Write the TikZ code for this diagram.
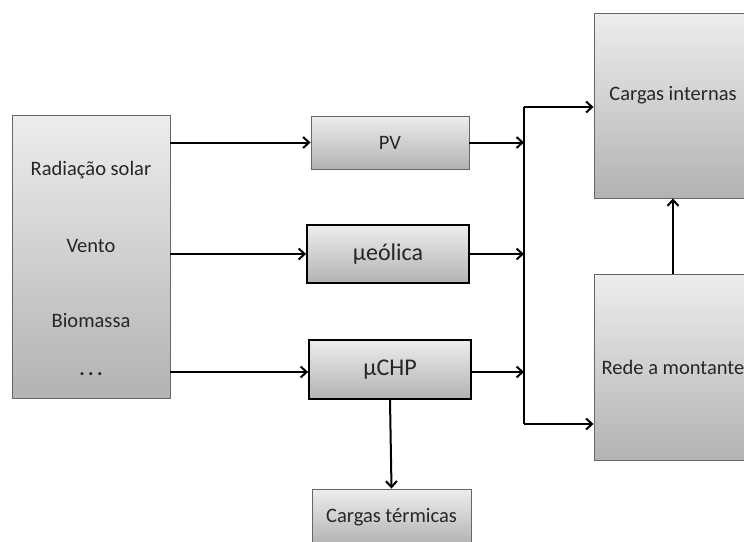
\documentclass[tikz,border=0pt]{standalone}
\usepackage{fontspec}
\setmainfont{Carlito}
\usetikzlibrary{arrows.meta}

\tikzset{
	block/.style={rectangle,inner sep=0pt,draw=black!60,line width=0.9pt,top color=black!7,bottom color=black!30,text=black!85},
	mublock/.style={block,draw=black,line width=1.8pt},
	flow/.style={line width=2pt,-{Straight Barb[length=6pt,width=11pt]}},
	srctext/.style={text=black!85}
}

\begin{document}
\begin{tikzpicture}[x=1pt,y=-1pt,every node/.style={align=center,font=\fontsize{20.5}{24}\selectfont}]
	\useasboundingbox (0,0) rectangle (744,541);
	% sources
	\node [block,minimum width=158pt,minimum height=283pt] (src) at (91,256.5) {};
	\node [srctext] (solar) at (91,170) {Radiação solar};
	\node [srctext] (vento) at (91,246) {Vento};
	\node [srctext] (bio) at (91,321) {Biomassa};
	\node [srctext] (etc) at (91,374) {\textbf{.\,.\,.}};
	% generation
	\node [block,minimum width=158pt,minimum height=53pt] (pv) at (390,142.5) {PV};
	\node [mublock,minimum width=162pt,minimum height=58pt,font=\fontsize{24}{28}\selectfont] (eol) at (388,254) {µeólica};
	\node [mublock,minimum width=162pt,minimum height=59pt,font=\fontsize{24}{28}\selectfont] (chp) at (390,369.5) {µCHP};
	\node [block,minimum width=159pt,minimum height=56pt] (term) at (391.5,517) {Cargas térmicas};
	% loads and grid
	\node [block,minimum width=158pt,minimum height=185pt] (cin) at (673,105.5) {};
	\node [srctext] (cintext) at (673,95) {Cargas internas};
	\node [block,minimum width=158pt,minimum height=186pt] (rede) at (673,367) {Rede a montante};
	\coordinate (bustop) at (524,107);
	\coordinate (busbot) at (524,424);

	\draw [flow] (src.east |- pv.west) -- (pv.west);
	\draw [flow] (src.east |- eol.west) -- (eol.west);
	\draw [flow] (src.east |- 0,372) -- (chp.west |- 0,372);
	\draw [flow] (pv.east) -- (pv.east -| bustop);
	\draw [flow] (eol.east) -- (eol.east -| bustop);
	\draw [flow] (chp.east |- 0,372) -- (bustop |- 0,372);
	\draw [line width=2pt] (bustop) -- (busbot);
	\draw [flow] (bustop) -- (bustop -| cin.west);
	\draw [flow] (busbot) -- (busbot -| rede.west);
	\draw [flow] (rede.north) -- (cin.south);
	\draw [flow] (chp.south) -- (term.north);
\end{tikzpicture}
\end{document}
